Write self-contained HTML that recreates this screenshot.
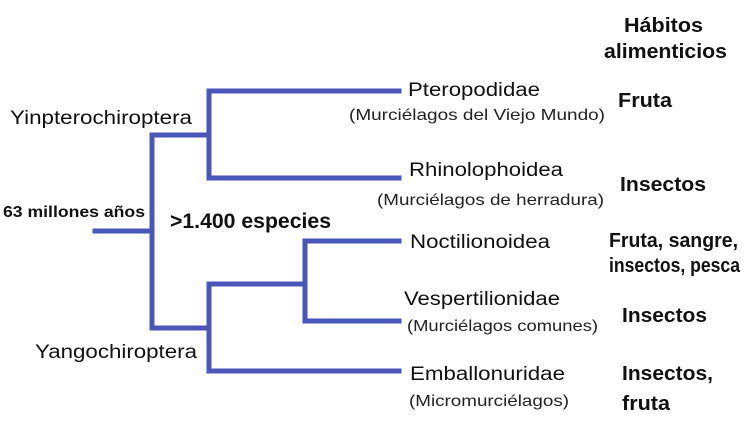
<!DOCTYPE html>
<html><head><meta charset="utf-8"><style>
html,body{margin:0;padding:0;background:#fff;}
svg{display:block;}
.m{font-family:"Liberation Sans",sans-serif;font-size:19px;fill:#111;}
.s{font-family:"Liberation Sans",sans-serif;font-size:16px;fill:#222;}
.b{font-family:"Liberation Sans",sans-serif;font-weight:bold;font-size:20px;fill:#111;}
</style></head><body>
<svg width="754" height="447" viewBox="0 0 754 447">
<g stroke="#4b56b9" stroke-width="5" fill="none" stroke-linecap="square">
<line x1="95" y1="231" x2="152" y2="231"/>
<line x1="152" y1="135" x2="152" y2="328"/>
<line x1="152" y1="135" x2="209" y2="135"/>
<line x1="209" y1="91" x2="209" y2="178"/>
<line x1="209" y1="91" x2="399" y2="91"/>
<line x1="209" y1="178" x2="399" y2="178"/>
<line x1="152" y1="328" x2="209" y2="328"/>
<line x1="209" y1="284" x2="209" y2="371"/>
<line x1="209" y1="284" x2="305" y2="284"/>
<line x1="305" y1="241" x2="305" y2="321"/>
<line x1="305" y1="241" x2="399" y2="241"/>
<line x1="305" y1="321" x2="399" y2="321"/>
<line x1="209" y1="371" x2="399" y2="371"/>
</g>
<text class="b" x="624" y="32" textLength="79" lengthAdjust="spacingAndGlyphs">Hábitos</text>
<text class="b" x="604" y="58" textLength="123" lengthAdjust="spacingAndGlyphs">alimenticios</text>
<text class="m" x="10" y="124" textLength="182" lengthAdjust="spacingAndGlyphs">Yinpterochiroptera</text>
<text class="m" x="35" y="358" textLength="162" lengthAdjust="spacingAndGlyphs">Yangochiroptera</text>
<text class="b" x="3" y="217" style="font-size:16px" textLength="142" lengthAdjust="spacingAndGlyphs">63 millones años</text>
<text class="b" x="170" y="228" style="font-size:21px" textLength="161" lengthAdjust="spacingAndGlyphs">&gt;1.400 especies</text>
<text class="m" x="408" y="96" textLength="132" lengthAdjust="spacingAndGlyphs">Pteropodidae</text>
<text class="s" x="349" y="120" textLength="256" lengthAdjust="spacingAndGlyphs">(Murciélagos del Viejo Mundo)</text>
<text class="b" x="618" y="107" textLength="54" lengthAdjust="spacingAndGlyphs">Fruta</text>
<text class="m" x="409" y="176" textLength="154" lengthAdjust="spacingAndGlyphs">Rhinolophoidea</text>
<text class="s" x="377" y="205" textLength="227" lengthAdjust="spacingAndGlyphs">(Murciélagos de herradura)</text>
<text class="b" x="620" y="191" textLength="86" lengthAdjust="spacingAndGlyphs">Insectos</text>
<text class="m" x="410" y="248" textLength="140" lengthAdjust="spacingAndGlyphs">Noctilionoidea</text>
<text class="b" x="609" y="247" textLength="129" lengthAdjust="spacingAndGlyphs">Fruta, sangre,</text>
<text class="b" x="609" y="272" textLength="131" lengthAdjust="spacingAndGlyphs">insectos, pesca</text>
<text class="m" x="404" y="305" textLength="156" lengthAdjust="spacingAndGlyphs">Vespertilionidae</text>
<text class="s" x="407" y="331" textLength="191" lengthAdjust="spacingAndGlyphs">(Murciélagos comunes)</text>
<text class="b" x="622" y="322" textLength="85" lengthAdjust="spacingAndGlyphs">Insectos</text>
<text class="m" x="410" y="380" textLength="155" lengthAdjust="spacingAndGlyphs">Emballonuridae</text>
<text class="s" x="409" y="406" textLength="160" lengthAdjust="spacingAndGlyphs">(Micromurciélagos)</text>
<text class="b" x="622" y="380" textLength="91" lengthAdjust="spacingAndGlyphs">Insectos,</text>
<text class="b" x="622" y="410" textLength="48" lengthAdjust="spacingAndGlyphs">fruta</text>
</svg>
</body></html>
